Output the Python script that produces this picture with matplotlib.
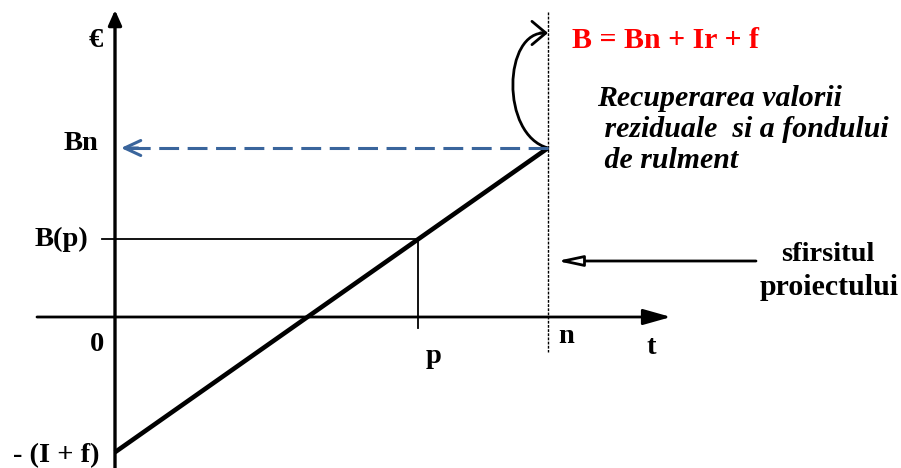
import matplotlib
matplotlib.use("Agg")
import matplotlib.pyplot as plt
from matplotlib.path import Path
from matplotlib.patches import PathPatch

# ---- data (schematic values) ----
t_points = [0.0, 7.0, 10.0]          # 0, p, n
t_labels = ["0", "p", "n"]
value_start = -8.0                   # -(I + f)
value_p = 4.6                        # B(p)
value_n = 10.0                       # Bn
value_labels = ["- (I + f)", "B(p)", "Bn"]
formula_text = "B = Bn + Ir + f"
note_lines = ["Recuperarea valorii", " reziduale  si a fondului", " de rulment"]
end_text = ["sfirsitul", "proiectului"]

W, H = 901, 468
fig = plt.figure(figsize=(W / 100, H / 100), dpi=100)
ax = fig.add_axes([0, 0, 1, 1])
# scale: 43.3 px per t unit, 16.9 px per value unit, origin at px (115, 317)
sx, sy, ox, oy = 43.3, 16.9, 115, 317
ax.set_xlim(-ox / sx, (W - ox) / sx)
ax.set_ylim(-(H - oy) / sy, oy / sy)
ax.axis("off")

def P(px, py):
    """pixel -> data coords (for text/annotation placement)"""
    return ((px - ox) / sx, (oy - py) / sy)

font = dict(family="Liberation Serif", weight="bold")
T0, TP, TN = t_points

# axes arrows
ax.annotate("", xy=(T0, P(0, 10)[1]), xytext=(T0, P(0, 468)[1]),
            arrowprops=dict(arrowstyle="-|>,head_length=0.45,head_width=0.2",
                            lw=2.4, color="black", shrinkA=0, shrinkB=0,
                            mutation_scale=20))
ax.annotate("", xy=(P(671, 0)[0], 0), xytext=(P(37, 0)[0], 0),
            arrowprops=dict(arrowstyle="-|>,head_length=0.85,head_width=0.24",
                            lw=2.0, color="black", shrinkA=0, shrinkB=0,
                            mutation_scale=20))

# main cash-flow line
ax.plot([T0, TN], [value_start, value_n], color="black", lw=3.3,
        solid_capstyle="butt")

# B(p) guides
ax.plot([P(102, 0)[0], TP], [value_p, value_p], color="black", lw=1.3)
ax.plot([TP, TP], [value_p, P(0, 328)[1]], color="black", lw=1.3)

# end of project dotted vertical
ax.plot([TN, TN], [P(0, 12)[1], P(0, 352)[1]], color="black", lw=1.0,
        linestyle=(0, (2, 1)))

# blue dashed arrow to Bn
blue = "#3a659c"
ax.plot([TN, P(124, 0)[0]], [value_n, value_n], color=blue, lw=2.2,
        linestyle=(0, (6.5, 2.8)))
ax.annotate("", xy=(P(121, 0)[0], value_n), xytext=(P(138, 0)[0], value_n),
            arrowprops=dict(arrowstyle="->,head_length=0.58,head_width=0.27",
                            lw=2.2, color=blue, shrinkA=0, shrinkB=0,
                            mutation_scale=20))

# loop arrow from (n, Bn) up to formula
verts = [(TN, value_n), P(500, 135), P(503, 30), P(546, 33)]
loop = PathPatch(Path(verts, [Path.MOVETO, Path.CURVE4, Path.CURVE4, Path.CURVE4]),
                 fc="none", ec="black", lw=2.0)
ax.add_patch(loop)
ax.annotate("", xy=P(548, 33), xytext=P(540, 33),
            arrowprops=dict(arrowstyle="->,head_length=0.5,head_width=0.42",
                            lw=2.0, color="black", shrinkA=0, shrinkB=0,
                            mutation_scale=20))

# arrow pointing to end of project
ax.annotate("", xy=P(557, 261), xytext=P(756, 261),
            arrowprops=dict(arrowstyle="-|>,head_length=0.75,head_width=0.16",
                            lw=2.0, ec="black", fc="white", shrinkA=0, shrinkB=0,
                            mutation_scale=20))

# texts (positions given by baseline in pixels)
fs = 20.5
def T(px, py, s, ha="center", **kw):
    ax.text(*P(px, py), s, fontsize=kw.pop("fontsize", fs), ha=ha,
            va="baseline", **font, **kw)

T(96, 47, "€")
T(98, 150, value_labels[2], ha="right")
T(88, 246, value_labels[1], ha="right")
T(97, 351, t_labels[0])
T(100, 462, value_labels[0], ha="right")
T(434, 363, t_labels[1])
T(566, 343, t_labels[2])
T(651, 354, "t")

T(572, 48, formula_text, ha="left", color="#ff0000", fontsize=21.5)
for i, line in enumerate(note_lines):
    T(597, 106 + 31 * i, line, ha="left", style="italic", fontsize=21.5)
T(828, 261, end_text[0])
T(829, 295, end_text[1], fontsize=21.5)

fig.savefig("out.png", dpi=100)
